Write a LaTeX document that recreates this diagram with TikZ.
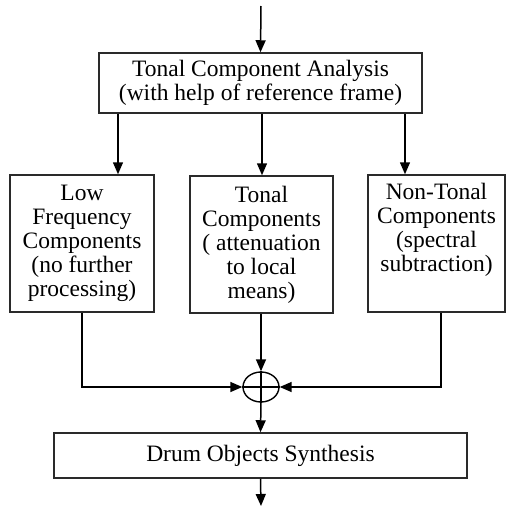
\documentclass[tikz,border=0pt]{standalone}
\usepackage{fontspec}
\setmainfont{Liberation Serif}
\usepackage{tikz}
\usetikzlibrary{arrows.meta,shapes.geometric}
\definecolor{ink}{HTML}{000000}
\definecolor{edge}{HTML}{2A2A2A}
\tikzset{
  blk/.style={draw=edge, line width=1.5pt, inner sep=0pt},
  txt/.style={text=ink, font=\fontsize{23.5}{24}\selectfont, align=center, inner sep=0pt},
  wire/.style={draw=ink, line width=1.5pt},
  arr/.style={wire, -{Triangle[length=12pt,width=10pt]}},
  sumnode/.style={ellipse, draw=ink, line width=1.4pt, minimum width=36pt, minimum height=30pt, inner sep=0pt},
}
\begin{document}
\begin{tikzpicture}[x=1pt,y=-1pt]
  \useasboundingbox (0,0) rectangle (507,506);

  % blocks
  \node[blk, txt, minimum width=323pt, minimum height=60pt] (tca) at (260.5,83)
    {Tonal Component Analysis\\(with help of reference frame)};
  \node[blk, minimum width=144pt, minimum height=137pt] (low) at (82,243.5) {};
  \node[blk, minimum width=143pt, minimum height=137pt] (mid) at (261.5,244.5) {};
  \node[blk, minimum width=137pt, minimum height=137pt] (non) at (436.5,243.5) {};
  \node[txt, anchor=north, yshift=-11pt] (lowtxt) at (low.north)
    {Low\\Frequency\\Components\\(no further\\processing)};
  \node[txt, anchor=north, yshift=-11pt] (midtxt) at (mid.north)
    {Tonal\\Components\\( attenuation\\to local\\means)};
  \node[txt, anchor=north, yshift=-9pt] (nontxt) at (non.north)
    {Non-Tonal\\Components\\(spectral\\subtraction)};
  \node[sumnode] (sum) at (261,387) {};
  \node[blk, txt, minimum width=413pt, minimum height=45pt] (syn) at (260.5,455.5)
    {Drum Objects Synthesis};

  % taps
  \coordinate (in) at (261,6);
  \coordinate (out) at (261,506);
  \coordinate (a1) at (118,0);
  \coordinate (a2) at (262,0);
  \coordinate (a3) at (405,0);
  \coordinate (a4) at (441,0);

  \draw[arr] (in) -- (tca.north);
  \draw[arr] (tca.south -| a1) -- (low.north -| a1);
  \draw[arr] (tca.south -| a2) -- (mid.north -| a2);
  \draw[arr] (tca.south -| a3) -- (non.north -| a3);

  \draw[arr] (low.south) -- (low.south |- sum.west) -- (sum.west);
  \draw[arr] (mid.south -| sum.north) -- (sum.north);
  \draw[arr] (non.south -| a4) -- (a4 |- sum.east) -- (sum.east);
  \draw[wire] (sum.north) -- (sum.south);
  \draw[wire] (sum.west) -- (sum.east);

  \draw[arr] (sum.south) -- (syn.north);
  \draw[arr] (syn.south) -- (out);
\end{tikzpicture}
\end{document}
